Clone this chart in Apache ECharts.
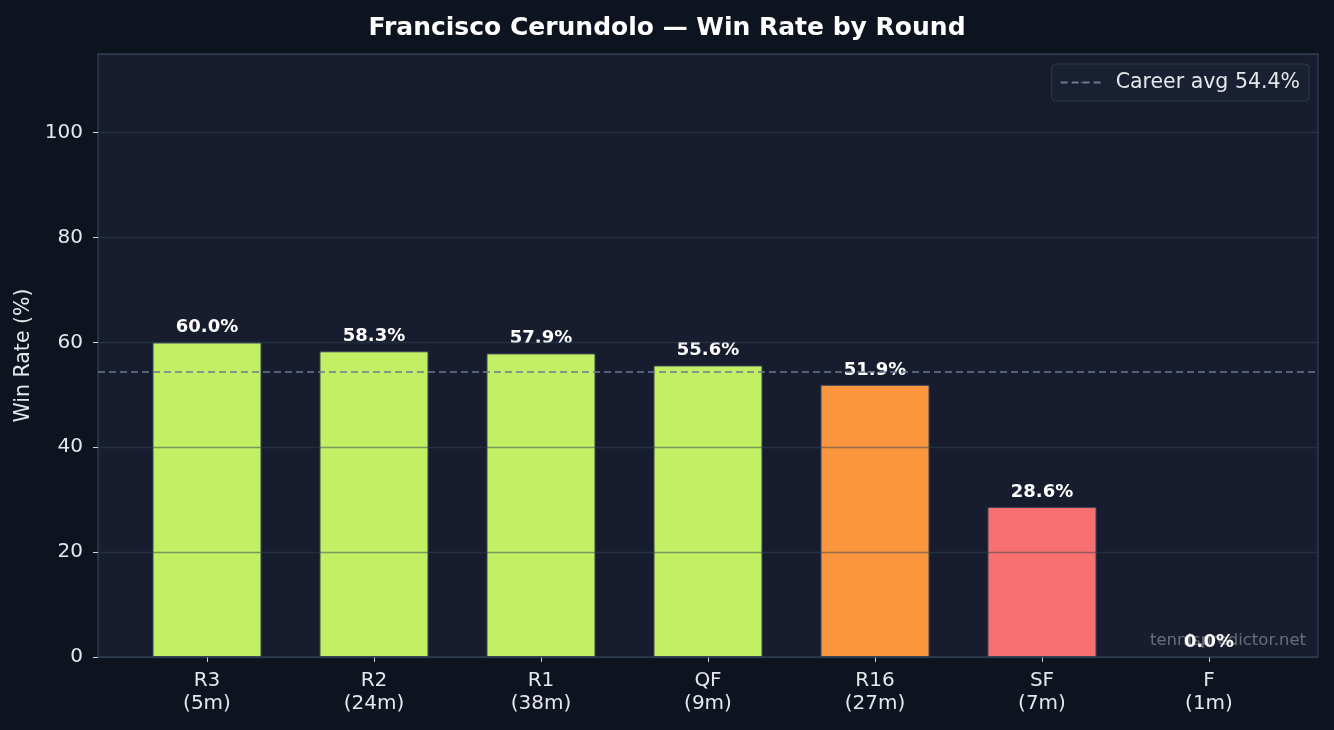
<!DOCTYPE html>
<html>
<head>
<meta charset="utf-8">
<script src="https://cdn.jsdelivr.net/npm/echarts@6/dist/echarts.min.js"></script>
<style>
  html, body { margin: 0; padding: 0; background: #0e1320; }
  #chart { width: 1334px; height: 730px; }
</style>
</head>
<body>
<div id="chart"></div>
<script>
var rounds = ['R3', 'R2', 'R1', 'QF', 'R16', 'SF', 'F'];
var matches = [5, 24, 38, 9, 27, 7, 1];
var winRates = [60.0, 58.3, 57.9, 55.6, 51.9, 28.6, 0.0];
var careerAvg = 54.4;

function barColor(v) {
    if (v >= careerAvg) return '#c2f065';
    if (v >= 40) return '#fb963e';
    return '#f87171';
}

var myChart = echarts.init(document.getElementById('chart'));

var option = {
    backgroundColor: '#0e1320',
    animation: false,
    textStyle: { fontFamily: 'DejaVu Sans' },
    title: {
        text: 'Francisco Cerundolo — Win Rate by Round',
        left: 'center',
        top: 11,
        textStyle: { color: '#ffffff', fontSize: 25, fontWeight: 'bold' }
    },
    legend: {
        right: 25,
        top: 64,
        padding: [8, 9, 8, 8],
        backgroundColor: '#182032',
        borderColor: '#2f3a4c',
        borderWidth: 1,
        borderRadius: 4,
        itemWidth: 42,
        itemHeight: 2,
        itemGap: 6,
        textStyle: { color: '#e5e7eb', fontSize: 20.5, padding: [0, 0, 0, 8] },
        data: ['Career avg ' + careerAvg + '%']
    },
    grid: [
        { left: 98, top: 54, width: 1220, height: 603, show: true,
          backgroundColor: '#171d2e', borderColor: '#303b4e', borderWidth: 1.5 },
        { left: 123.5, top: 54, width: 1169, height: 603 }
    ],
    xAxis: [
        { type: 'value', gridIndex: 0, show: false, min: 0, max: 1 },
        {
            type: 'category',
            gridIndex: 1,
            data: rounds.map(function (r, i) { return r + '\n(' + matches[i] + 'm)'; }),
            axisLine: { show: false },
            axisTick: { show: true, alignWithLabel: true, length: 5, lineStyle: { color: '#cbd5e1' } },
            axisLabel: { color: '#e5e7eb', fontSize: 20, margin: 12, lineHeight: 23 }
        }
    ],
    yAxis: [
        {
            type: 'value',
            gridIndex: 0,
            z: 5,
            min: 0,
            max: 115,
            interval: 20,
            name: 'Win Rate (%)',
            nameLocation: 'middle',
            nameGap: 64,
            nameTextStyle: { color: '#e5e7eb', fontSize: 20.5 },
            axisLine: { show: false },
            axisTick: { show: true, length: 5, lineStyle: { color: '#cbd5e1' } },
            axisLabel: { color: '#e5e7eb', fontSize: 20, margin: 15, showMaxLabel: false },
            splitLine: { show: true, lineStyle: { color: 'rgba(51,65,85,0.5)', width: 1.3 } }
        },
        { type: 'value', gridIndex: 1, min: 0, max: 115, show: false }
    ],
    graphic: [{
        type: 'text',
        right: 28,
        top: 632,
        z: 1,
        style: { text: 'tennispredictor.net', fill: 'rgba(255,255,255,0.35)', fontSize: 16.5, fontFamily: 'DejaVu Sans' }
    }],
    series: [
        {
            type: 'bar',
            xAxisIndex: 1,
            yAxisIndex: 1,
            barWidth: 109,
            data: winRates.map(function (v) {
                return { value: v, itemStyle: { color: barColor(v), borderWidth: v > 0 ? 1 : 0 } };
            }),
            itemStyle: { borderColor: '#3a4558', borderWidth: 1 },
            label: {
                show: true,
                position: 'top',
                distance: 6,
                color: '#ffffff',
                fontSize: 18,
                fontWeight: 'bold',
                formatter: function (p) { return p.value.toFixed(1) + '%'; }
            }
        },
        {
            name: 'Career avg ' + careerAvg + '%',
            type: 'line',
            xAxisIndex: 0,
            yAxisIndex: 0,
            data: [],
            symbol: 'none',
            color: '#6b7a90',
            lineStyle: { color: '#6b7a90', type: [7, 4], width: 1.5 },
            markLine: {
                silent: true,
                symbol: 'none',
                label: { show: false },
                lineStyle: { color: '#6b7a90', type: [7, 4], width: 1.5 },
                data: [{ yAxis: careerAvg }]
            }
        }
    ]
};
myChart.setOption(option);
</script>
</body>
</html>
